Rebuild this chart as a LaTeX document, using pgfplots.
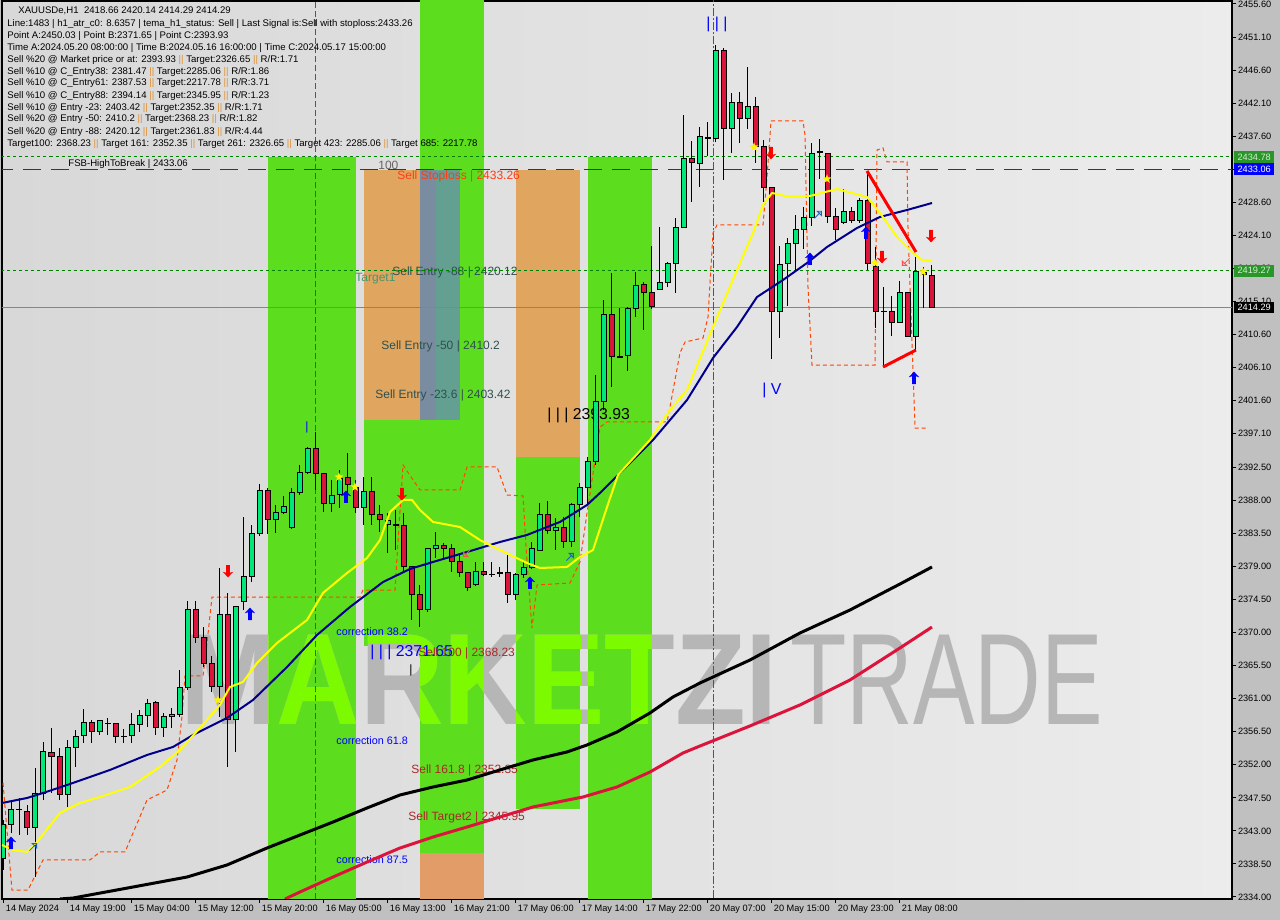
\documentclass[border=0pt]{standalone}
\usepackage{pgfplots}
\pgfplotsset{compat=1.18}
\usepackage{pgfplotstable}
\usepackage{fontspec}
\setmainfont{Liberation Sans}

\definecolor{outerbg}{RGB}{192,192,192}
\definecolor{bgL}{RGB}{216,216,216}
\definecolor{bgR}{RGB}{236,236,236}
\definecolor{bandG}{RGB}{92,222,30}
\definecolor{bandO}{RGB}{224,166,96}
\definecolor{bandOb}{RGB}{226,156,104}
\definecolor{bandSlate}{RGB}{122,140,160}
\definecolor{bandTeal}{RGB}{100,160,146}
\definecolor{cup}{RGB}{0,232,120}
\definecolor{cdn}{RGB}{220,20,60}
\definecolor{manavy}{RGB}{0,0,139}
\definecolor{mayel}{RGB}{255,255,0}
\definecolor{macrim}{RGB}{220,20,60}
\definecolor{stepred}{RGB}{255,69,0}
\definecolor{lvlgreen}{RGB}{0,128,0}
\definecolor{lvlblue}{RGB}{10,40,255}
\definecolor{bidline}{RGB}{119,136,153}
\definecolor{vmag}{RGB}{200,20,120}
\definecolor{slategr}{RGB}{47,79,79}
\definecolor{brownred}{RGB}{170,40,40}
\definecolor{sepor}{RGB}{224,144,48}
\definecolor{wmgray}{RGB}{182,182,182}
\definecolor{wmlime}{RGB}{124,250,0}
\definecolor{stopred}{RGB}{255,60,20}
\definecolor{tgtgreen}{RGB}{70,150,110}
\definecolor{gray100}{RGB}{100,100,100}
\definecolor{boxgreen}{RGB}{40,150,40}
\definecolor{boxtext}{RGB}{215,235,210}

\pgfdeclareplotmark{uparr}{%
  \pgfpathmoveto{\pgfpoint{0pt}{3.2pt}}%
  \pgfpathlineto{\pgfpoint{2.6pt}{0.4pt}}%
  \pgfpathlineto{\pgfpoint{0.9pt}{0.9pt}}%
  \pgfpathlineto{\pgfpoint{0.9pt}{-3pt}}%
  \pgfpathlineto{\pgfpoint{-0.9pt}{-3pt}}%
  \pgfpathlineto{\pgfpoint{-0.9pt}{0.9pt}}%
  \pgfpathlineto{\pgfpoint{-2.6pt}{0.4pt}}%
  \pgfpathclose\pgfusepathqfill}
\pgfdeclareplotmark{dnarr}{%
  \pgfpathmoveto{\pgfpoint{0pt}{-3.2pt}}%
  \pgfpathlineto{\pgfpoint{2.6pt}{-0.4pt}}%
  \pgfpathlineto{\pgfpoint{0.9pt}{-0.9pt}}%
  \pgfpathlineto{\pgfpoint{0.9pt}{3pt}}%
  \pgfpathlineto{\pgfpoint{-0.9pt}{3pt}}%
  \pgfpathlineto{\pgfpoint{-0.9pt}{-0.9pt}}%
  \pgfpathlineto{\pgfpoint{-2.6pt}{-0.4pt}}%
  \pgfpathclose\pgfusepathqfill}
\pgfdeclareplotmark{hollowup}{%
  \pgfpathmoveto{\pgfpoint{-1.8pt}{-1.8pt}}%
  \pgfpathlineto{\pgfpoint{1.2pt}{1.2pt}}%
  \pgfpathmoveto{\pgfpoint{1.8pt}{1.8pt}}%
  \pgfpathlineto{\pgfpoint{1.8pt}{-0.4pt}}%
  \pgfpathlineto{\pgfpoint{-0.4pt}{1.8pt}}%
  \pgfpathclose\pgfusepathqstroke}
\pgfdeclareplotmark{fstar}{%
  \pgfpathmoveto{\pgfpoint{0pt}{2.4pt}}%
  \pgfpathlineto{\pgfpoint{0.56pt}{0.78pt}}%
  \pgfpathlineto{\pgfpoint{2.28pt}{0.74pt}}%
  \pgfpathlineto{\pgfpoint{0.91pt}{-0.3pt}}%
  \pgfpathlineto{\pgfpoint{1.41pt}{-1.94pt}}%
  \pgfpathlineto{\pgfpoint{0pt}{-0.96pt}}%
  \pgfpathlineto{\pgfpoint{-1.41pt}{-1.94pt}}%
  \pgfpathlineto{\pgfpoint{-0.91pt}{-0.3pt}}%
  \pgfpathlineto{\pgfpoint{-2.28pt}{0.74pt}}%
  \pgfpathlineto{\pgfpoint{-0.56pt}{0.78pt}}%
  \pgfpathclose\pgfusepathqfill}

\pgfplotstableread{
i o h l c
0 2339.31 2344.49 2337.68 2343.81
1 2343.81 2346.94 2342.72 2345.85
2 2345.85 2347.48 2342.44 2345.90
3 2345.58 2346.53 2342.44 2343.53
4 2343.53 2351.57 2336.72 2348.16
5 2348.16 2355.11 2347.21 2353.75
6 2353.61 2357.02 2348.16 2353.07
7 2353.07 2354.29 2347.21 2347.89
8 2347.89 2355.38 2346.26 2354.29
9 2354.29 2356.74 2351.71 2355.79
10 2355.93 2359.60 2354.97 2357.70
11 2357.70 2358.11 2354.97 2356.47
12 2356.47 2358.11 2356.06 2357.97
13 2357.56 2358.38 2356.06 2357.62
14 2357.56 2357.70 2354.97 2355.79
15 2355.79 2356.88 2354.97 2355.86
16 2355.93 2359.06 2354.97 2357.43
17 2357.43 2359.47 2356.47 2358.65
18 2358.65 2360.97 2357.15 2360.29
19 2360.42 2360.70 2356.06 2357.02
20 2357.02 2359.06 2355.79 2358.52
21 2358.52 2359.74 2357.02 2358.79
22 2358.79 2364.91 2358.52 2362.46
23 2362.46 2374.30 2362.19 2373.21
24 2373.21 2374.30 2368.59 2369.27
25 2369.27 2370.76 2365.32 2365.86
26 2365.86 2366.81 2361.91 2362.73
27 2362.73 2378.80 2358.52 2372.53
28 2372.53 2375.39 2351.71 2358.11
29 2358.11 2373.62 2353.75 2373.62
30 2374.17 2385.75 2373.08 2377.58
31 2377.58 2384.66 2376.89 2383.43
32 2383.43 2390.24 2383.16 2389.29
33 2389.29 2389.70 2383.43 2385.47
34 2385.34 2387.38 2383.57 2386.29
35 2386.29 2388.61 2386.15 2387.24
36 2384.38 2389.70 2384.11 2389.02
37 2389.02 2392.83 2388.74 2391.74
38 2391.74 2395.28 2391.60 2395.01
39 2395.01 2397.32 2389.43 2391.60
40 2391.60 2391.74 2386.43 2387.52
41 2387.52 2390.79 2386.43 2388.61
42 2388.74 2392.15 2386.97 2390.92
43 2391.19 2394.46 2388.33 2390.11
44 2389.70 2390.79 2386.29 2386.97
45 2386.97 2391.19 2384.66 2389.15
46 2389.15 2391.19 2384.66 2386.02
47 2386.02 2387.38 2383.70 2385.34
48 2384.79 2386.29 2380.84 2385.20
49 2384.79 2386.70 2381.25 2384.52
50 2384.52 2386.29 2378.12 2378.94
51 2378.94 2378.94 2371.72 2375.13
52 2375.13 2376.49 2370.76 2373.21
53 2373.21 2381.52 2372.81 2381.52
54 2381.52 2383.70 2380.16 2381.93
55 2381.93 2382.21 2380.16 2381.52
56 2381.39 2382.07 2378.26 2379.62
57 2379.62 2380.84 2377.58 2378.12
58 2378.12 2378.26 2375.67 2376.08
59 2376.49 2379.62 2376.35 2378.26
60 2378.26 2379.62 2377.71 2377.85
61 2377.98 2379.62 2377.58 2377.92
62 2378.12 2378.94 2377.58 2378.05
63 2378.12 2380.57 2374.03 2375.13
64 2375.13 2378.12 2374.44 2377.85
65 2377.85 2379.62 2377.44 2378.80
66 2378.80 2382.34 2378.67 2381.39
67 2381.25 2387.65 2381.11 2386.02
68 2386.02 2387.92 2383.43 2383.84
69 2383.84 2385.61 2381.25 2384.25
70 2384.25 2385.75 2381.52 2382.34
71 2382.34 2387.65 2381.66 2387.38
72 2387.38 2390.38 2385.75 2389.70
73 2389.70 2393.92 2387.38 2393.24
74 2393.24 2405.08 2392.83 2401.41
75 2401.41 2415.29 2400.32 2413.38
76 2413.38 2418.97 2403.44 2407.66
77 2407.66 2414.20 2407.39 2407.53
78 2407.80 2414.34 2405.62 2414.07
79 2414.07 2419.10 2412.98 2417.33
80 2417.34 2417.74 2411.21 2416.25
81 2416.25 2422.65 2414.07 2414.34
82 2416.79 2425.23 2416.66 2417.74
83 2417.61 2420.47 2417.06 2420.20
84 2420.20 2426.46 2416.25 2425.23
85 2425.23 2440.49 2425.23 2434.50
86 2434.50 2436.95 2428.64 2433.95
87 2433.82 2438.85 2430.68 2437.49
88 2437.36 2439.53 2434.90 2437.22
89 2437.22 2450.02 2436.81 2449.20
90 2449.20 2449.61 2431.64 2438.58
91 2438.58 2443.48 2435.31 2442.12
92 2442.12 2443.62 2436.67 2439.94
93 2439.94 2447.02 2438.58 2441.58
94 2441.58 2442.94 2433.95 2436.13
95 2436.13 2437.08 2428.64 2430.55
96 2430.55 2430.68 2407.26 2413.66
97 2413.66 2422.65 2410.12 2420.06
98 2420.20 2423.74 2414.48 2422.92
99 2422.92 2426.87 2419.38 2424.83
100 2424.83 2427.96 2422.24 2426.46
101 2426.46 2436.67 2425.37 2435.18
102 2435.31 2437.22 2431.77 2435.45
103 2435.18 2435.18 2425.78 2426.60
104 2426.60 2427.82 2423.46 2424.96
105 2425.78 2430.41 2425.64 2427.28
106 2427.28 2427.96 2425.78 2426.05
107 2426.05 2429.18 2425.78 2428.78
108 2428.78 2432.86 2419.38 2420.33
109 2419.92 2422.51 2411.48 2413.79
110 2413.79 2417.06 2406.17 2413.66
111 2413.66 2415.84 2410.39 2412.29
112 2412.29 2417.88 2412.29 2416.38
113 2416.38 2416.38 2410.39 2410.39
114 2410.39 2421.15 2408.48 2419.11
115 2418.83 2419.79 2414.20 2418.97
116 2418.66 2420.14 2414.29 2414.29
}\candles

\pgfplotsset{
  chartbase/.style={at={(1pt,10.5pt)}, anchor=south west, scale only axis,
    width=615pt, height=449pt, xmin=-0.1875, xmax=153.5625,
    ymin=2333.728, ymax=2456.009},
}
\newcommand{\ob}{\textcolor{sepor}{||}}
\newcommand{\tf}{\fontsize{4.6}{5.5}\selectfont}
\newcommand{\infofont}{\fontsize{4.8}{5.8}\selectfont}
\newcommand{\lblfont}{\fontsize{6}{7}\selectfont}
\newcommand{\corrfont}{\fontsize{5.4}{6.5}\selectfont}
\newcommand{\bigfont}{\fontsize{7.9}{9}\selectfont}

\begin{document}
\begin{tikzpicture}
\path[use as bounding box] (0,0) rectangle (640pt,460pt);
\fill[outerbg] (0,0) rectangle (640pt,460pt);

% ---------- Axis A: background, bands, ticks ----------
\begin{axis}[chartbase,
  axis background/.style={left color=bgL, right color=bgR},
  axis line style={black, line width=0.6pt},
  tick align=outside, major tick length=2pt,
  tick style={black, line width=0.5pt},
  ytick pos=right, yticklabel pos=right, xtick pos=left,
  scaled y ticks=false,
  ytick={2334,2338.5,2343,2347.5,2352,2356.5,2361,2365.5,2370,2374.5,2379,2383.5,2388,2392.5,2397.1,2401.6,2406.1,2410.6,2415.1,2419.6,2424.1,2428.6,2433.1,2437.6,2442.1,2446.6,2451.1,2455.6},
  yticklabel={\pgfmathprintnumber[fixed,fixed zerofill,precision=2,1000 sep={},assume math mode=true]{\tick}},
  yticklabel style={font=\tf, anchor=west, inner sep=0.8pt},
  xtick={0,8,...,112},
  xticklabels={14 May 2024,14 May 19:00,15 May 04:00,15 May 12:00,15 May 20:00,16 May 05:00,16 May 13:00,16 May 21:00,17 May 06:00,17 May 14:00,17 May 22:00,20 May 07:00,20 May 15:00,20 May 23:00,21 May 08:00},
  xticklabel style={font=\tf, anchor=north west, inner sep=0.8pt, xshift=0.2pt},
]
% band a
\addplot[fill=bandG, draw=none] coordinates {(33,2434.78) (44,2434.78) (44,2330) (33,2330)};
% band b
\addplot[fill=bandO, draw=none] coordinates {(45,2433.06) (52,2433.06) (52,2398.9) (45,2398.9)};
\addplot[fill=bandG, draw=none] coordinates {(45,2398.9) (52,2398.9) (52,2368.23) (45,2368.23)};
% band c
\addplot[fill=bandG, draw=none] coordinates {(52,2460) (60,2460) (60,2339.99) (52,2339.99)};
\addplot[fill=bandOb, draw=none] coordinates {(52,2339.99) (60,2339.99) (60,2330) (52,2330)};
\addplot[fill=bandSlate, draw=none] coordinates {(52,2433.06) (54,2433.06) (54,2398.9) (52,2398.9)};
\addplot[fill=bandTeal, draw=none] coordinates {(54,2433.06) (57,2433.06) (57,2398.9) (54,2398.9)};
% band d
\addplot[fill=bandO, draw=none] coordinates {(64,2433.06) (72,2433.06) (72,2393.93) (64,2393.93)};
\addplot[fill=bandG, draw=none] coordinates {(64,2393.93) (72,2393.93) (72,2345.95) (64,2345.95)};
% band e
\addplot[fill=bandG, draw=none] coordinates {(73,2434.78) (81,2434.78) (81,2330) (73,2330)};
\end{axis}

% ---------- watermark and level labels (pixel coordinates) ----------
\begin{scope}[shift={(0pt,460pt)}, x=0.5pt, y=-0.5pt]
  \node[anchor=base west, inner sep=0, text=wmgray, font=\fontsize{65}{65}\selectfont\bfseries, xscale=0.89] at (180,725) {MARKETZI};
  \node[anchor=base west, inner sep=0, text=wmgray, font=\fontsize{65}{65}\selectfont, xscale=0.71] at (790,725) {TRADE};
  \begin{scope}
    \clip (267,600) rectangle (355,760) (363,600) rectangle (419,643) (419,600) rectangle (483,760) (515,600) rectangle (580,760) (587,600) rectangle (651,760);
    \node[anchor=base west, inner sep=0, text=wmlime, font=\fontsize{65}{65}\selectfont\bfseries, xscale=0.89] at (180,725) {MARKETZI};
  \end{scope}
  \node[anchor=west, inner sep=0, font=\infofont] at (68,164) {FSB-HighToBreak | 2433.06};
  \node[anchor=west, inner sep=0, font=\lblfont, text=gray100] at (378,165) {100};
  \node[anchor=west, inner sep=0, font=\lblfont, text=stopred] at (397,176) {Sell Stoploss | 2433.26};
  \node[anchor=west, inner sep=0, font=\lblfont, text=tgtgreen] at (355,279) {Target1};
  \node[anchor=west, inner sep=0, font=\lblfont, text=slategr] at (392,272) {Sell Entry -88 | 2420.12};
  \node[anchor=west, inner sep=0, font=\lblfont, text=slategr] at (381,346) {Sell Entry -50 | 2410.2};
  \node[anchor=west, inner sep=0, font=\lblfont, text=slategr] at (375,395) {Sell Entry -23.6 | 2403.42};
  \node[anchor=west, inner sep=0, font=\bigfont, text=black] at (547,415) {| | | 2393.93};
  \node[anchor=west, inner sep=0, font=\bigfont, text=blue] at (706,24) {| | |};
  \node[anchor=west, inner sep=0, font=\bigfont, text=blue] at (762,390) {| V};
  \node[anchor=west, inner sep=0, font=\lblfont, text=blue] at (305,427) {|};
  \node[anchor=west, inner sep=0, font=\lblfont, text=black] at (409,670) {|};
  \node[anchor=west, inner sep=0, font=\corrfont, text=blue] at (336,632) {correction 38.2};
  \node[anchor=west, inner sep=0, font=\bigfont, text=blue] at (370,652) {| | | 2371.65};
  \node[anchor=west, inner sep=0, font=\lblfont, text=brownred] at (418,653) {Sell 100 | 2368.23};
  \node[anchor=west, inner sep=0, font=\corrfont, text=blue] at (336,741) {correction 61.8};
  \node[anchor=west, inner sep=0, font=\lblfont, text=brownred] at (411,770) {Sell 161.8 | 2352.35};
  \node[anchor=west, inner sep=0, font=\lblfont, text=brownred] at (408,817) {Sell Target2 | 2345.95};
  \node[anchor=west, inner sep=0, font=\corrfont, text=blue] at (336,860) {correction 87.5};
\end{scope}

% ---------- Axis B: level lines, step line, wicks ----------
\begin{axis}[chartbase, hide axis]
\addplot[draw=lvlgreen, line width=0.5pt, dash pattern=on 1.5pt off 1.5pt] coordinates {(-1,2434.78) (160,2434.78)};
\addplot[draw=lvlblue, line width=0.8pt, dash pattern=on 9pt off 5pt] coordinates {(-1,2433.06) (160,2433.06)};
\addplot[draw=lvlgreen, line width=0.5pt, dash pattern=on 1.5pt off 1.5pt] coordinates {(-1,2419.27) (160,2419.27)};
\addplot[draw=bidline, line width=0.5pt] coordinates {(-1,2414.29) (160,2414.29)};
\addplot[draw=vmag, line width=0.5pt, dash pattern=on 3pt off 1.5pt] coordinates {(38.95,2330) (38.95,2460)};
\addplot[draw=vmag, line width=0.5pt, dash pattern=on 4pt off 1pt on 1pt off 1pt] coordinates {(88.8,2330) (88.8,2460)};
\addplot[draw=stepred, line width=0.5pt, dash pattern=on 2pt off 1.5pt] coordinates {
(-0.06,2349.53) (1.06,2334.95) (3.06,2334.95) (4.94,2339.04) (10.81,2339.04) (12.06,2340.13) (15.19,2340.13) (17.94,2347.21) (20.44,2348.57) (21.69,2352.66) (22.31,2358.52) (22.69,2364.10) (24.94,2364.10) (25.44,2368.59) (26.06,2374.85) (44.56,2374.85) (44.94,2375.80) (48.94,2375.80) (49.19,2380.30) (49.94,2392.83) (51.19,2390.79) (52.06,2389.43) (57.06,2389.43) (57.94,2392.56) (61.69,2392.56) (62.94,2388.74) (64.94,2388.61) (65.44,2379.48) (66.06,2370.63) (66.69,2376.49) (70.81,2376.76) (72.06,2379.62) (72.94,2386.29) (74.56,2397.99) (75.44,2398.68) (82.94,2398.68) (83.31,2400.73) (84.56,2408.08) (85.19,2409.57) (87.44,2410.12) (88.06,2412.98) (88.69,2424.42) (89.19,2425.51) (94.94,2425.51) (95.44,2432.04) (95.94,2439.67) (99.94,2439.67) (100.19,2437.76) (100.56,2417.06) (101.06,2406.44) (108.94,2406.44) (109.19,2435.72) (109.94,2435.99) (110.44,2434.09) (112.94,2434.09) (113.06,2425.23) (113.56,2409.43) (113.94,2397.86) (115.56,2397.86)};
\addplot[draw=none, mark=none, error bars/.cd, y dir=both, y explicit, error mark=none,
  error bar style={draw=black, solid, line width=0.5pt}]
  table[x=i, y expr={(\thisrow{h}+\thisrow{l})/2}, y error expr={(\thisrow{h}-\thisrow{l})/2}] {\candles};
\end{axis}

% ---------- Axis C: candle bodies ----------
\begin{axis}[chartbase, hide axis, ymin=0, ymax=122.281, ybar stacked, bar width=2.5pt]
\addplot[draw=none, fill=none] table[x=i, y expr={min(\thisrow{o},\thisrow{c})-2333.728}] {\candles};
\addplot[fill=cup, draw=black, line width=0.5pt] table[x=i, y expr={max(\thisrow{c}-\thisrow{o},0)}] {\candles};
\addplot[fill=cdn, draw=black, line width=0.5pt] table[x=i, y expr={max(\thisrow{o}-\thisrow{c},0)}] {\candles};
\end{axis}

% ---------- Axis D: moving averages, signals ----------
\begin{axis}[chartbase, hide axis]
\addplot[black, line width=1.5pt] coordinates {(7.06,2333.73) (8.69,2333.86) (16.19,2335.36) (22.94,2336.72) (27.94,2338.36) (32.94,2340.67) (37.06,2342.44) (41.19,2344.21) (45.44,2346.12) (49.56,2347.89) (53.69,2348.98) (57.94,2349.93) (62.06,2351.30) (66.19,2352.66) (70.44,2353.75) (72.94,2354.70) (76.69,2356.47) (80.81,2359.06) (83.69,2361.24) (87.06,2363.14) (93.31,2366.27) (99.56,2369.95) (105.81,2373.08) (112.06,2376.62) (116.06,2378.94)};
\addplot[macrim, line width=1.5pt] coordinates {(35.19,2333.73) (37.06,2334.68) (41.19,2336.72) (45.44,2338.76) (49.56,2340.67) (53.69,2342.17) (57.94,2343.53) (62.06,2344.89) (66.19,2346.26) (72.44,2347.62) (76.69,2348.98) (80.81,2351.02) (84.94,2353.61) (87.06,2354.56) (93.31,2357.29) (99.56,2360.15) (105.81,2363.55) (112.06,2367.91) (116.06,2370.76)};
\addplot[manavy, line width=1pt] coordinates {(-0.19,2346.80) (2.94,2347.48) (4.94,2348.16) (7.94,2349.25) (10.44,2350.20) (13.31,2351.30) (17.94,2353.34) (21.19,2354.43) (23.69,2356.06) (26.19,2357.43) (27.94,2358.38) (31.19,2360.83) (35.44,2365.32) (39.19,2369.68) (43.31,2373.49) (47.44,2376.89) (50.81,2378.67) (53.69,2379.62) (57.94,2380.98) (62.06,2382.34) (65.44,2383.30) (69.56,2385.07) (72.94,2387.38) (74.56,2389.02) (77.06,2391.74) (81.19,2396.23) (85.44,2401.68) (88.69,2407.40) (91.69,2411.62) (94.19,2415.70) (97.44,2418.02) (100.44,2420.33) (102.94,2422.51) (106.69,2425.10) (109.56,2426.60) (112.94,2427.55) (116.06,2428.50)};
\addplot[mayel, line width=1pt] coordinates {(-0.19,2341.08) (1.19,2340.40) (2.94,2340.13) (4.19,2341.49) (7.06,2345.44) (9.56,2346.80) (12.06,2347.62) (15.81,2348.98) (19.56,2351.71) (22.06,2354.02) (24.56,2357.02) (27.06,2360.15) (28.31,2362.60) (29.94,2363.28) (31.69,2365.86) (34.19,2368.59) (37.94,2371.72) (39.94,2375.40) (42.94,2378.12) (45.44,2380.16) (47.06,2382.61) (48.31,2386.43) (49.94,2388.06) (51.06,2388.06) (52.06,2386.70) (53.69,2385.07) (57.06,2384.38) (59.56,2382.61) (62.06,2381.25) (65.44,2379.48) (67.06,2378.80) (70.44,2378.94) (72.06,2380.30) (73.69,2381.25) (75.44,2387.10) (76.81,2391.47) (80.81,2396.23) (83.31,2400.32) (85.44,2403.04) (88.69,2411.62) (91.69,2419.38) (93.69,2424.42) (94.94,2428.23) (96.06,2429.87) (98.31,2429.32) (100.81,2429.46) (104.19,2430.41) (107.94,2429.32) (109.56,2427.14) (111.69,2423.87) (113.69,2421.70) (114.81,2420.74) (116.06,2420.61)};
\addplot[red, line width=1.5pt] coordinates {(107.94,2432.86) (114.06,2421.83)};
\addplot[red, line width=1.5pt] coordinates {(109.94,2406.17) (114.06,2408.48)};
\addplot[only marks, mark=uparr, color=blue] coordinates {(0.94,2341.35) (30.81,2372.53) (42.81,2388.47) (65.81,2376.76) (100.81,2420.88) (107.81,2424.42) (113.81,2404.67)};
\addplot[only marks, mark=dnarr, color=red] coordinates {(28.06,2378.39) (49.81,2388.88) (95.94,2435.31) (109.81,2421.15) (115.94,2424.01)};
\addplot[only marks, mark=hollowup, color=cyan!40!blue, line width=0.4pt] coordinates {(3.69,2340.80) (70.81,2380.30) (101.81,2426.90)};
\addplot[only marks, mark=hollowup, color=red!70!white, line width=0.4pt, mark options={rotate=180}] coordinates {(57.94,2380.85) (112.81,2420.48)};
\addplot[only marks, mark=fstar, color=yellow] coordinates {(26.81,2360.83) (41.94,2391.19) (43.94,2389.83) (93.81,2436.13) (102.94,2431.77) (108.94,2420.33) (114.94,2419.11)};
\end{axis}

% ---------- info text and price boxes ----------
\begin{scope}[shift={(0pt,460pt)}, x=0.5pt, y=-0.5pt]
  \begin{scope}[every node/.style={anchor=west, inner sep=0, font=\infofont}]
  \node at (18,10.7) {XAUUSDe,H1\ \ 2418.66 2420.14 2414.29 2414.29};
  \node at (7,24) {Line:1483 | h1\_atr\_c0: 8.6357 | tema\_h1\_status: Sell | Last Signal is:Sell with stoploss:2433.26};
  \node at (7,35.7) {Point A:2450.03 | Point B:2371.65 | Point C:2393.93};
  \node at (7,47.7) {Time A:2024.05.20 08:00:00 | Time B:2024.05.16 16:00:00 | Time C:2024.05.17 15:00:00};
  \node at (7,60) {Sell \%20 @ Market price or at: 2393.93 \ob{} Target:2326.65 \ob{} R/R:1.71};
  \node at (7,71.7) {Sell \%10 @ C\_Entry38: 2381.47 \ob{} Target:2285.06 \ob{} R/R:1.86};
  \node at (7,83.3) {Sell \%10 @ C\_Entry61: 2387.53 \ob{} Target:2217.78 \ob{} R/R:3.71};
  \node at (7,95.7) {Sell \%10 @ C\_Entry88: 2394.14 \ob{} Target:2345.95 \ob{} R/R:1.23};
  \node at (7,107.7) {Sell \%10 @ Entry -23: 2403.42 \ob{} Target:2352.35 \ob{} R/R:1.71};
  \node at (7,119.3) {Sell \%20 @ Entry -50: 2410.2 \ob{} Target:2368.23 \ob{} R/R:1.82};
  \node at (7,131.7) {Sell \%20 @ Entry -88: 2420.12 \ob{} Target:2361.83 \ob{} R/R:4.44};
  \node at (7,144) {Target100: 2368.23 \ob{} Target 161: 2352.35 \ob{} Target 261: 2326.65 \ob{} Target 423: 2285.06 \ob{} Target 685: 2217.78};
  \end{scope}
  \begin{scope}[every node/.style={anchor=west, font=\tf, inner xsep=1.6pt, inner ysep=0pt, minimum height=5.8pt}]
  \node[fill=boxgreen, text=boxtext] at (1234,157.3) {2434.78};
  \node[fill=blue, text=white] at (1234,169.3) {2433.06};
  \node[fill=boxgreen, text=boxtext] at (1234,270.8) {2419.27};
  \node[fill=black, text=white] at (1234,307.6) {2414.29};
  \end{scope}
\end{scope}
\end{tikzpicture}
\end{document}
